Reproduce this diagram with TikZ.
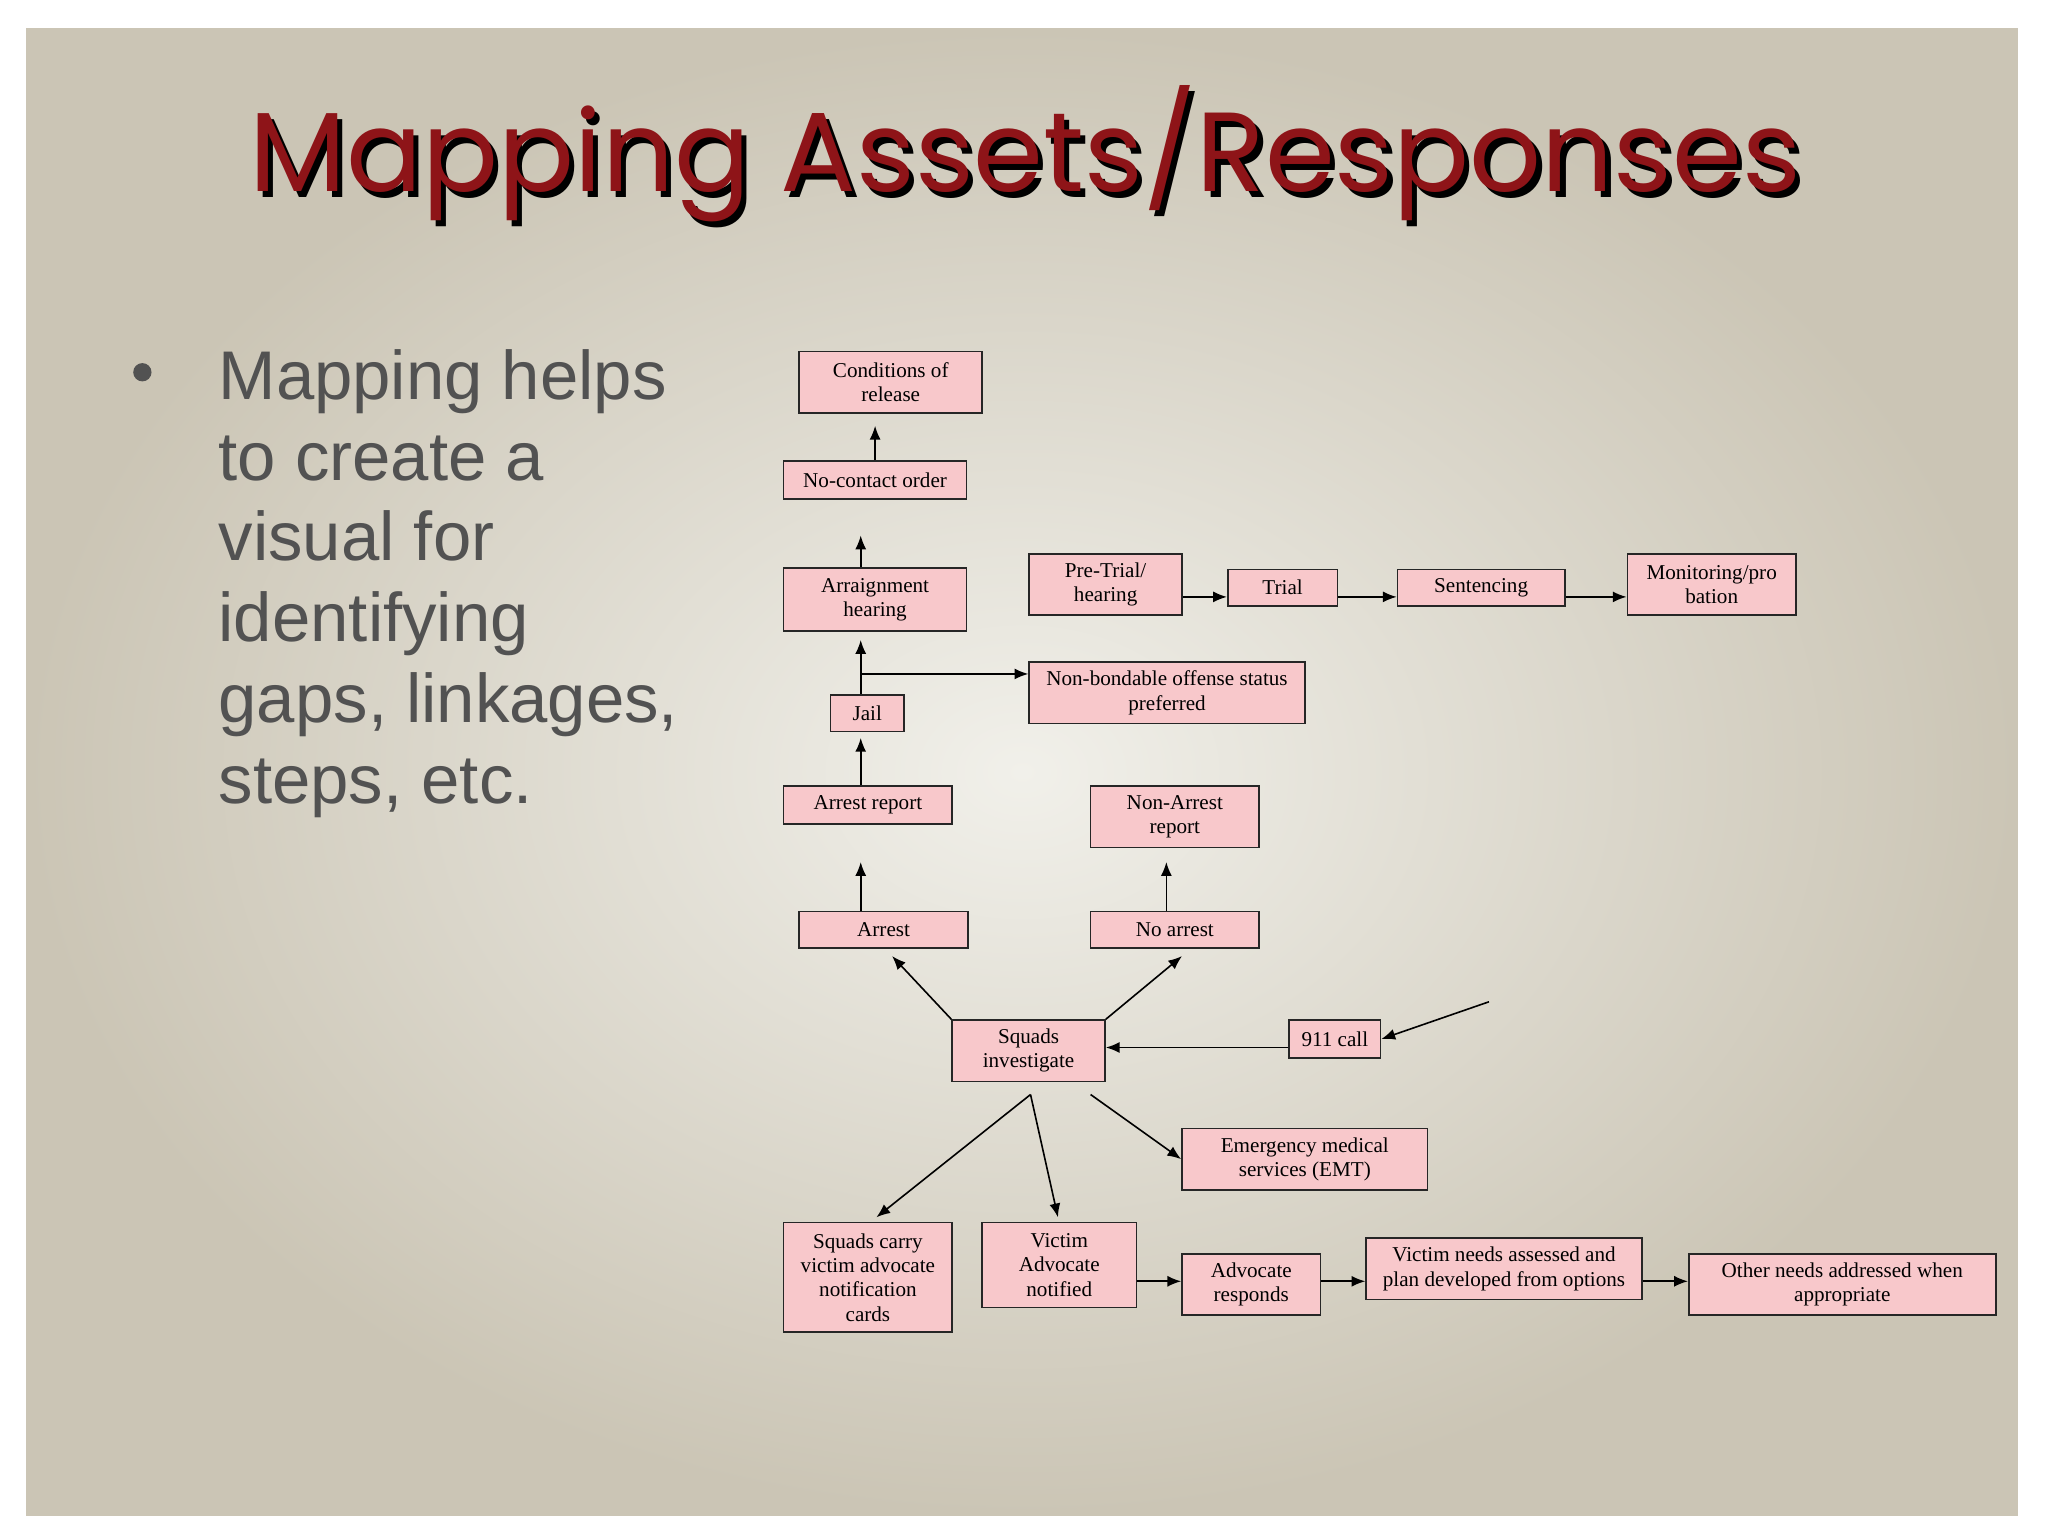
\documentclass[tikz,border=0pt]{standalone}
\usepackage{fontspec}
\setmainfont{Liberation Serif}
\newfontfamily\titlef{Poppins}
\newfontfamily\bodyf{Liberation Sans}
\usetikzlibrary{arrows.meta}
\definecolor{boxpink}{HTML}{F8C8CB}
\definecolor{titlered}{HTML}{8E1418}
\definecolor{bginner}{HTML}{F1F0EA}
\definecolor{bgouter}{HTML}{CBC5B5}
\tikzset{
  bx/.style={draw=black!85,line width=0.35pt,fill=boxpink,inner sep=0pt,align=center,
    font=\fontsize{4.6}{5.3}\selectfont},
  ar/.style={line width=0.35pt,-{Latex[length=3pt,width=2.4pt]}},
}
\newcommand{\bx}[6]{\node[bx,minimum width=#4cm-#2cm,minimum height=#5cm-#3cm] (#1) at ({(#2+#4)*50},{(#3+#5)*50+2}) {#6};}
\begin{document}
\begin{tikzpicture}[x=0.01cm,y=-0.01cm]
\useasboundingbox (0,0) rectangle (1568,1176);
\fill[white] (0,0) rectangle (1568,1176);
\shade[inner color=bginner,outer color=bgouter] (20,22) rectangle (1545,1160);
\node[font=\titlef\fontsize{24.5}{30}\selectfont,text=black] at (789,122) {Mapping Assets/Responses};
\node[font=\titlef\fontsize{24.5}{30}\selectfont,text=titlered] (title) at (785,118) {Mapping Assets/Responses};
\node[font=\bodyf\fontsize{15}{17.6}\selectfont,text=black!68,align=left,anchor=north west] (bullet) at (155,255) {Mapping helps\\to create a\\visual for\\identifying\\gaps, linkages,\\steps, etc.};
\fill[black!68] (109,285) circle (7);
\bx{cond}{6.12}{2.67}{7.52}{3.14}{Conditions of\\release}
\bx{nocontact}{6.00}{3.51}{7.40}{3.80}{No-contact order}
\bx{arraign}{6.00}{4.33}{7.40}{4.81}{Arraignment\\hearing}
\bx{pretrial}{7.88}{4.22}{9.05}{4.69}{Pre-Trial/\\hearing}
\bx{trial}{9.40}{4.34}{10.24}{4.62}{Trial}
\bx{sent}{10.70}{4.34}{11.98}{4.62}{Sentencing}
\bx{monit}{12.46}{4.22}{13.75}{4.69}{Monitoring/pro\\bation}
\bx{jail}{6.36}{5.30}{6.92}{5.58}{Jail}
\bx{nonbond}{7.88}{5.05}{9.99}{5.52}{Non-bondable offense status\\preferred}
\bx{arrestrep}{6.00}{6.00}{7.29}{6.29}{Arrest report}
\bx{nonarrestrep}{8.35}{6.00}{9.64}{6.47}{Non-Arrest\\report}
\bx{arrest}{6.12}{6.96}{7.41}{7.24}{Arrest}
\bx{noarrest}{8.35}{6.96}{9.64}{7.24}{No arrest}
\bx{squads}{7.29}{7.79}{8.46}{8.26}{Squads\\investigate}
\bx{call}{9.87}{7.79}{10.57}{8.08}{{\addfontfeatures{Numbers=OldStyle}911} call}
\bx{emt}{9.05}{8.62}{10.93}{9.09}{Emergency medical\\services (EMT)}
\bx{carry}{6.00}{9.34}{7.29}{10.18}{Squads carry\\victim advocate\\notification\\cards}
\bx{vadv}{7.52}{9.34}{8.70}{9.99}{Victim\\Advocate\\notified}
\bx{advresp}{9.05}{9.58}{10.11}{10.05}{Advocate\\responds}
\bx{needs}{10.46}{9.46}{12.57}{9.93}{Victim needs assessed and\\plan developed from options}
\bx{other}{12.93}{9.58}{15.28}{10.05}{Other needs addressed when\\appropriate}
\coordinate (c1) at (670,326);
\coordinate (c2) at (659,410);
\coordinate (c3) at (659,490);
\coordinate (c4) at (659,516);
\coordinate (c5) at (659,565);
\coordinate (c6) at (659,660);
\coordinate (c7) at (893,660);
\coordinate (c8) at (1140,767);
\coordinate (s1) at (789,838);
\coordinate (s2) at (835,838);
\draw[ar] (nocontact.north -| c1) -- (c1);
\draw[ar] (arraign.north -| c2) -- (c2);
\draw[ar] (jail.north -| c3) -- (c3);
\draw[ar] (c4) -- (c4 -| nonbond.west);
\draw[ar] (arrestrep.north -| c5) -- (c5);
\draw[ar] (arrest.north -| c6) -- (c6);
\draw[ar] (noarrest.north -| c7) -- (c7);
\draw[ar] (squads.north west) -- (683,732);
\draw[ar] (squads.north east) -- (905,732);
\draw[ar] (call.west |- 0,802) -- (squads.east |- 0,802);
\draw[ar] (c8) -- (call.east);
\draw[ar] (s1) -- (671,932);
\draw[ar] (s1) -- (810,932);
\draw[ar] (s2) -- (emt.west);
\draw[ar] (vadv.east |- 0,981) -- (advresp.west |- 0,981);
\draw[ar] (advresp.east |- 0,981) -- (needs.west |- 0,981);
\draw[ar] (needs.east |- 0,981) -- (other.west |- 0,981);
\draw[ar] (pretrial.east |- 0,457) -- (trial.west |- 0,457);
\draw[ar] (trial.east |- 0,457) -- (sent.west |- 0,457);
\draw[ar] (sent.east |- 0,457) -- (monit.west |- 0,457);
\end{tikzpicture}
\end{document}
